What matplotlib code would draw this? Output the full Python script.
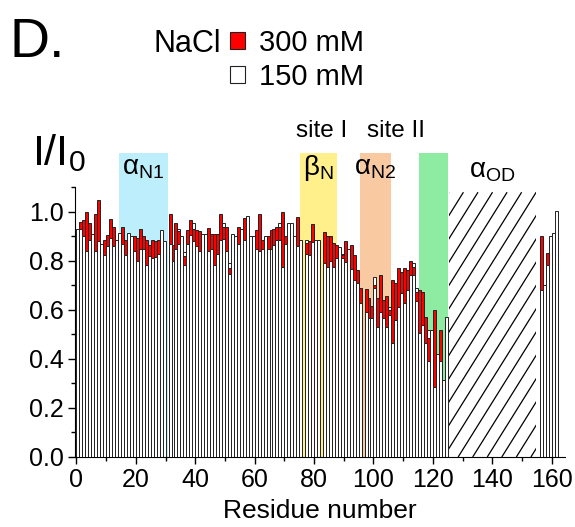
import numpy as np
import matplotlib
matplotlib.use("Agg")
import matplotlib.pyplot as plt
from matplotlib.patches import Patch, Rectangle
from matplotlib.collections import LineCollection

plt.rcParams['font.family'] = ['Liberation Sans', 'DejaVu Sans']
plt.rcParams['mathtext.default'] = 'regular'

nan = np.nan

# residue numbers (31, 77, 83, 97 and 126-156 not observed)
resid = list(range(1, 126)) + [157, 158, 159, 160, 161, 162]

# 150 mM (white bars, back)
i150 = [0.93, nan, nan, nan, nan, 0.91, nan, nan, 0.87, nan,
        nan, nan, nan, 0.885, 0.915, nan, nan, 0.915, 0.90, nan,
        nan, nan, nan, nan, nan, nan, nan, nan, 0.925, 0.88,
        nan, nan, nan, nan, 0.93, 0.90, 0.835, nan, nan, 0.955,
        nan, nan, 0.91, 0.91, nan, nan, nan, nan, nan, 0.955,
        nan, 0.79, 0.91, 0.90, nan, 0.93, nan, 0.985, 0.90, 0.90,
        nan, nan, nan, 0.90, nan, nan, nan, nan, 0.955, nan,
        nan, 0.955, 0.955, 0.90, nan, 0.885, nan, 0.886, nan, nan,
        0.886, 0.886, nan, nan, nan, nan, nan, nan, 0.858, 0.83,
        nan, 0.85, nan, nan, nan, nan, nan, nan, nan, nan,
        0.736, nan, nan, nan, nan, 0.61, nan, nan, nan, nan,
        nan, nan, nan, 0.79, 0.69, nan, nan, nan, 0.52, 0.52,
        nan, 0.42, nan, 0.313, 0.573,
        nan, 0.70, nan, 0.902, 0.915, 1.005]

# 300 mM (red bars)
i300 = [nan, 0.96, 0.965, 1.00, 0.955, nan, 0.99, 1.05, nan, 0.885,
        0.905, 0.97, 0.94, nan, nan, 0.94, 0.885, nan, nan, 0.90,
        0.895, 0.93, 0.90, 0.885, 0.865, 0.885, 0.88, 0.885, nan, nan,
        nan, 0.99, 0.865, 0.955, 0.92, nan, 0.818, 0.925, 0.965, 0.93,
        0.925, 0.92, nan, nan, 0.935, 0.91, 0.91, 0.91, 0.99, 0.94,
        0.94, 0.77, nan, nan, 0.94, nan, 0.975, nan, nan, nan,
        0.925, 0.99, 0.885, nan, 0.90, 0.925, 0.93, 0.94, 0.94, 1.00,
        0.90, nan, nan, nan, 0.98, nan, nan, 0.873, 0.88, 0.95,
        nan, nan, nan, 0.918, 0.90, 0.90, 0.872, 0.865, nan, 0.824,
        0.883, nan, 0.865, 0.825, 0.763, 0.69, nan, 0.685, 0.65, 0.615,
        0.70, 0.65, 0.743, 0.64, 0.655, 0.60, 0.72, 0.711, 0.77, 0.756,
        0.77, 0.763, 0.80, 0.776, 0.675, 0.681, 0.675, 0.572, 0.484, nan,
        0.60, nan, 0.52, nan, nan,
        0.902, nan, 0.834, nan, nan, nan]

# lower white bars in front
low = [nan, 0.93, 0.90, 0.84, 0.885, nan, 0.84, 0.88, nan, 0.825,
       0.86, 0.895, 0.86, nan, nan, 0.87, 0.825, nan, nan, 0.84,
       0.80, 0.85, 0.85, 0.785, 0.82, 0.81, 0.815, 0.83, nan, nan,
       nan, 0.87, 0.80, 0.85, 0.87, nan, 0.784, 0.87, 0.905, 0.88,
       0.86, 0.84, nan, nan, 0.84, 0.85, 0.785, 0.83, 0.885, 0.89,
       0.84, 0.745, nan, nan, 0.87, nan, 0.885, nan, nan, nan,
       0.85, 0.84, 0.85, nan, 0.85, 0.85, 0.865, 0.885, 0.885, 0.775,
       0.87, nan, nan, nan, 0.86, nan, nan, 0.83, 0.825, 0.875,
       nan, nan, nan, 0.79, 0.777, 0.80, 0.776, 0.81, nan, 0.81,
       0.797, nan, 0.765, 0.723, 0.709, 0.63, nan, 0.593, 0.565, 0.565,
       0.69, 0.53, 0.593, 0.565, 0.53, 0.58, 0.463, 0.56, 0.613, 0.668,
       0.627, 0.68, 0.742, 0.742, 0.635, 0.505, 0.539, 0.463, 0.39, nan,
       0.287, nan, 0.39, nan, nan,
       0.682, nan, 0.784, nan, nan, nan]

# highlighted regions (start, end, colour, label)
regions = [(14.4, 30.7, '#bdeefb', r'α$_{N1}$'),
           (75.3, 87.7, '#fff08c', r'β$_{N}$'),
           (95.4, 105.9, '#f9c9a2', r'α$_{N2}$'),
           (115.3, 125.0, '#8eeba2', '')]
od_region = (125.4, 154.8, 1.08)

resid = np.array(resid, dtype=float)
i150 = np.array(i150)
i300 = np.array(i300)
low = np.array(low)

fig = plt.figure(figsize=(5.75, 5.27), dpi=100)
ax = fig.add_axes([75 / 575, 1 - 457 / 527, 490 / 575, 304 / 527])
ax.set_xlim(-0.5, 164.5)
ax.set_ylim(0, 1.24)

for x0, x1, col, lab in regions:
    ax.axvspan(x0, x1, color=col, lw=0, zorder=0)
    if lab:
        ax.text((x0 + x1) / 2, 1.18, lab, ha='center', va='center', fontsize=20)

# hatched (unassigned) region: steep diagonal lines clipped to a box
xa, xb, top = od_region
box = Rectangle((xa, 0), xb - xa, top, facecolor='none', edgecolor='none')
ax.add_patch(box)
run = top * (245 / 1.6) / 2.97       # horizontal run of one line, in residues
starts = np.arange(xa - run, xb, 4.9)
segs = [[(s, 0), (s + run, top)] for s in starts]
lc = LineCollection(segs, colors='black', linewidths=0.9, zorder=1)
ax.add_collection(lc)
lc.set_clip_path(box)
ax.text(140, 1.165, r'α$_{OD}$', ha='center', va='center', fontsize=20)

ax.text(82.7, 1.33, 'site I', ha='center', va='center', fontsize=17.5, clip_on=False)
ax.text(107.5, 1.33, 'site II', ha='center', va='center', fontsize=17.5, clip_on=False)

m = np.isfinite(i150)
ax.bar(resid[m], i150[m], width=-1, align='edge', color='white',
       edgecolor='#222222', lw=0.7, zorder=2)
m = np.isfinite(i300)
ax.bar(resid[m], i300[m], width=-1, align='edge', color='#ff0000',
       edgecolor='#222222', lw=0.7, zorder=3)
m = np.isfinite(low)
ax.bar(resid[m], low[m], width=-1, align='edge', color='white',
       edgecolor='#222222', lw=0.7, zorder=4)

ax.spines['top'].set_visible(False)
ax.spines['right'].set_visible(False)
ax.spines['left'].set_bounds(0, 1.1)
ax.set_xticks(np.arange(0, 161, 20))
ax.set_xticks(np.arange(10, 161, 20), minor=True)
ax.set_yticks(np.arange(0, 1.01, 0.2))
ax.set_yticks(np.arange(0.1, 1.11, 0.2), minor=True)
ax.yaxis.set_major_formatter(matplotlib.ticker.FormatStrFormatter('%.1f'))
ax.tick_params(which='major', length=5, width=1, labelsize=18, pad=3)
ax.tick_params(which='minor', length=3, width=1)
ax.set_xlabel('Residue number', fontsize=19, labelpad=5)

fig.text(32 / 575, 1 - 165 / 527, r'I/I$_0$', fontsize=31, va='baseline')
fig.text(9 / 575, 1 - 57 / 527, 'D.', fontsize=40, va='baseline')
fig.text(154 / 575, 1 - 52 / 527, 'NaCl', fontsize=22, va='baseline')

handles = [Patch(facecolor='#ff0000', edgecolor='#222222', lw=0.8, label='300 mM'),
           Patch(facecolor='white', edgecolor='#222222', lw=0.8, label='150 mM')]
fig.legend(handles=handles, loc='upper left', bbox_to_anchor=(230 / 575, 1 - 29 / 527),
           frameon=False, fontsize=21, handlelength=0.5, handleheight=0.5,
           handletextpad=0.5, labelspacing=0.2, borderpad=0, borderaxespad=0)

fig.savefig('out.png', dpi=100)
